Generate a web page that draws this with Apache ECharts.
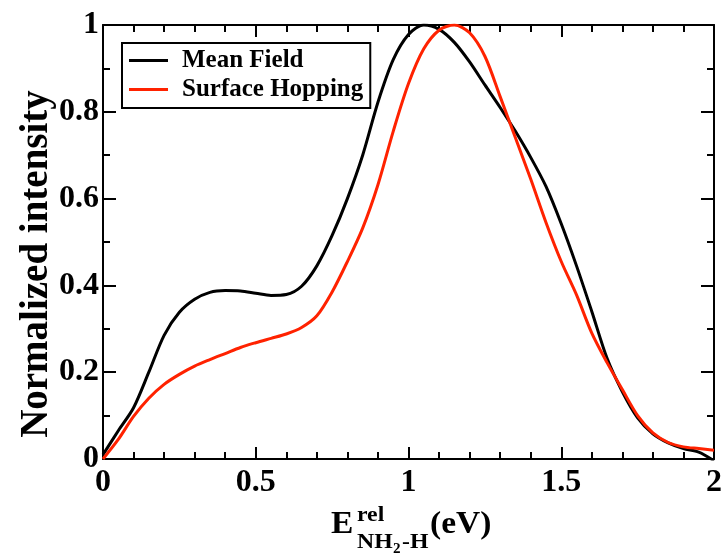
<!DOCTYPE html>
<html>
<head>
<meta charset="utf-8">
<script src="https://cdn.jsdelivr.net/npm/echarts@6/dist/echarts.min.js"></script>
<style>html,body{margin:0;padding:0;background:#fff}#c{width:725px;height:556px}</style>
</head>
<body>
<div id="c"></div>
<script>
const xValues = [0, 0.05, 0.1, 0.15, 0.2, 0.25, 0.3, 0.35, 0.4, 0.45, 0.5, 0.55, 0.6, 0.65, 0.7, 0.75, 0.8, 0.85, 0.9, 0.95, 1.0, 1.05, 1.1, 1.15, 1.2, 1.25, 1.3, 1.35, 1.4, 1.45, 1.5, 1.55, 1.6, 1.65, 1.7, 1.75, 1.8, 1.85, 1.9, 1.95, 2.0];
const meanField = [0.01, 0.065, 0.118, 0.2, 0.285, 0.338, 0.368, 0.384, 0.388, 0.387, 0.382, 0.377, 0.379, 0.398, 0.445, 0.515, 0.6, 0.7, 0.822, 0.92, 0.978, 1.0, 0.99, 0.96, 0.915, 0.862, 0.81, 0.755, 0.695, 0.628, 0.542, 0.445, 0.34, 0.232, 0.155, 0.095, 0.058, 0.037, 0.024, 0.016, -0.004];
const surfaceHopping = [0.0, 0.045, 0.098, 0.14, 0.172, 0.195, 0.214, 0.229, 0.243, 0.257, 0.268, 0.278, 0.288, 0.303, 0.33, 0.385, 0.455, 0.532, 0.632, 0.755, 0.865, 0.945, 0.988, 1.0, 0.982, 0.928, 0.835, 0.74, 0.645, 0.545, 0.455, 0.378, 0.29, 0.222, 0.16, 0.1, 0.06, 0.038, 0.028, 0.024, 0.02];
const xTicks = [0, 0.5, 1, 1.5, 2];
const yTicks = [0, 0.2, 0.4, 0.6, 0.8, 1];

const FONT = '"Liberation Serif", "Times New Roman", serif';
const chart = echarts.init(document.getElementById('c'), null, {renderer: 'canvas'});

function xAxisCfg(pos, showLabel) {
  return {
    type: 'value', position: pos, min: xTicks[0], max: xTicks[xTicks.length - 1], interval: 0.5,
    axisLine: {show: true, onZero: false, lineStyle: {color: '#000', width: 2}},
    axisTick: {show: true, inside: true, length: 12, lineStyle: {color: '#000', width: 2}},
    minorTick: {show: true, splitNumber: 5, length: 7, lineStyle: {color: '#000', width: 2}},
    splitLine: {show: false}, minorSplitLine: {show: false},
    axisLabel: {show: showLabel, color: '#000', fontFamily: FONT, fontWeight: 'bold', fontSize: 32, margin: 8}
  };
}
function yAxisCfg(pos, showLabel) {
  return {
    type: 'value', position: pos, min: yTicks[0], max: yTicks[yTicks.length - 1], interval: 0.2,
    axisLine: {show: true, onZero: false, lineStyle: {color: '#000', width: 2}},
    axisTick: {show: true, inside: true, length: 13, lineStyle: {color: '#000', width: 2}},
    minorTick: {show: true, splitNumber: 2, length: 7, lineStyle: {color: '#000', width: 2}},
    splitLine: {show: false}, minorSplitLine: {show: false},
    axisLabel: {show: showLabel, color: '#000', fontFamily: FONT, fontWeight: 'bold', fontSize: 32, margin: 4}
  };
}

const option = {
  animation: false,
  backgroundColor: '#fff',
  grid: {left: 103, right: 8, top: 25, bottom: 97, containLabel: false},
  xAxis: [xAxisCfg('bottom', true), xAxisCfg('top', false)],
  yAxis: [yAxisCfg('left', true), yAxisCfg('right', false)],
  legend: {
    left: 122, top: 43, orient: 'vertical',
    padding: [5, 7, 6, 7],
    borderColor: '#000', borderWidth: 2, borderRadius: 0,
    itemWidth: 39, itemHeight: 3, itemGap: 4, icon: 'rect',
    textStyle: {color: '#000', fontFamily: FONT, fontWeight: 'bold', fontSize: 25, lineHeight: 24, padding: [0, 0, 0, 9]},
    data: ['Mean Field', 'Surface Hopping']
  },
  series: [
    {
      name: 'Mean Field', type: 'line', smooth: 0.3, symbol: 'none', xAxisIndex: 0, yAxisIndex: 0,
      color: '#000', lineStyle: {color: '#000', width: 3},
      data: xValues.map((x, i) => [x, meanField[i]])
    },
    {
      name: 'Surface Hopping', type: 'line', smooth: 0.3, symbol: 'none', xAxisIndex: 0, yAxisIndex: 0,
      color: '#ff2200', lineStyle: {color: '#ff2200', width: 3},
      data: xValues.map((x, i) => [x, surfaceHopping[i]])
    }
  ],
  graphic: [
    {type: 'text', x: 37, y: 264, rotation: Math.PI / 2,
      style: {text: 'Normalized intensity', fill: '#000', font: 'bold 39px ' + FONT, align: 'center', verticalAlign: 'middle'}},
    {type: 'text', x: 331, y: 525, scaleX: 1.08, style: {text: 'E', fill: '#000', font: 'bold 31px ' + FONT, align: 'left', verticalAlign: 'middle'}},
    {type: 'text', x: 357, y: 515, scaleX: 1.08, style: {text: 'rel', fill: '#000', font: 'bold 22px ' + FONT, align: 'left', verticalAlign: 'middle'}},
    {type: 'text', x: 357, y: 542, scaleX: 1.08, style: {text: 'NH', fill: '#000', font: 'bold 22px ' + FONT, align: 'left', verticalAlign: 'middle'}},
    {type: 'text', x: 393, y: 549, scaleX: 1.08, style: {text: '2', fill: '#000', font: 'bold 14px ' + FONT, align: 'left', verticalAlign: 'middle'}},
    {type: 'text', x: 402, y: 542, scaleX: 1.08, style: {text: '-H', fill: '#000', font: 'bold 22px ' + FONT, align: 'left', verticalAlign: 'middle'}},
    {type: 'text', x: 430, y: 525, scaleX: 1.08, style: {text: '(eV)', fill: '#000', font: 'bold 31px ' + FONT, align: 'left', verticalAlign: 'middle'}}
  ]
};
chart.setOption(option);
</script>
</body>
</html>
